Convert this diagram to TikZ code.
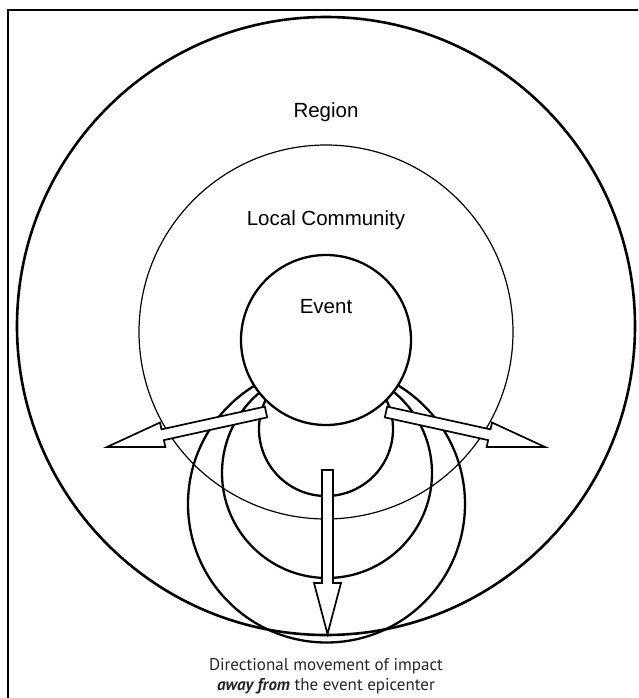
\documentclass[tikz,border=0pt]{standalone}
\usepackage{fontspec}
\setmainfont{Liberation Sans}
\newfontfamily\capfont{PT Sans}
\usetikzlibrary{calc}
\newcommand\blockarrow[5]{% tail, tip, head length, shaft half width, head half width
  \coordinate (#1H) at ($(#2)!#3!(#1)$);
  \draw[arrowbox] ($(#1)!#4!90:(#2)$) -- ($(#1H)!#4!90:(#2)$) -- ($(#1H)!#5!90:(#2)$) -- (#2)
    -- ($(#1H)!#5!-90:(#2)$) -- ($(#1H)!#4!-90:(#2)$) -- ($(#1)!#4!-90:(#2)$) -- cycle;}
\begin{document}
\begin{tikzpicture}[x=1pt,y=-1pt,
  framebox/.style={line width=2.2pt},
  bigring/.style={line width=2.6pt},
  thinring/.style={line width=1.2pt},
  wave/.style={line width=2.3pt},
  eventring/.style={line width=2.3pt,fill=white},
  arrowbox/.style={line width=1.7pt,fill=white,line join=miter},
  label/.style={font=\fontsize{20.5}{24}\selectfont,inner sep=0pt},
  caption/.style={font=\capfont\fontsize{17}{20}\selectfont,text=black!85,align=center,inner sep=0pt}]
\useasboundingbox (0,0) rectangle (638,698);
\clip (0,0) rectangle (638,698);
\draw[framebox] (8,10) rectangle (652,712);
% circles
\coordinate (regc) at (326,326);
\coordinate (lcc) at (326,332);
\coordinate (evc) at (326,340);
\coordinate (w1c) at (326,429);
\coordinate (w2c) at (327,473);
\coordinate (w3c) at (326.5,504);
\draw[bigring] (regc) circle[radius=309];
\draw[thinring] (lcc) circle[radius=187];
\draw[wave] (w1c) circle[radius=67];
\draw[wave] (w2c) circle[radius=105];
\draw[wave] (w3c) circle[radius=138.5];
\draw[eventring] (evc) circle[radius=85];
% arrows
\coordinate (la) at (266,412); \coordinate (lb) at (107,447);
\coordinate (ra) at (386,412); \coordinate (rb) at (545,447);
\coordinate (da) at (327.5,470); \coordinate (db) at (327.5,634);
\blockarrow{la}{lb}{57pt}{5.5pt}{12.5pt}
\blockarrow{ra}{rb}{57pt}{5.5pt}{12.5pt}
\blockarrow{da}{db}{51pt}{5.5pt}{13.5pt}
% labels
\node[label] (region) at (326,112) {Region};
\node[label] (local) at (326,220) {Local Community};
\node[label] (event) at (326,307) {Event};
\node[caption] (cap) at (326,676) {Directional movement of impact\\\textbf{\textit{away from}} the event epicenter};
\end{tikzpicture}
\end{document}
